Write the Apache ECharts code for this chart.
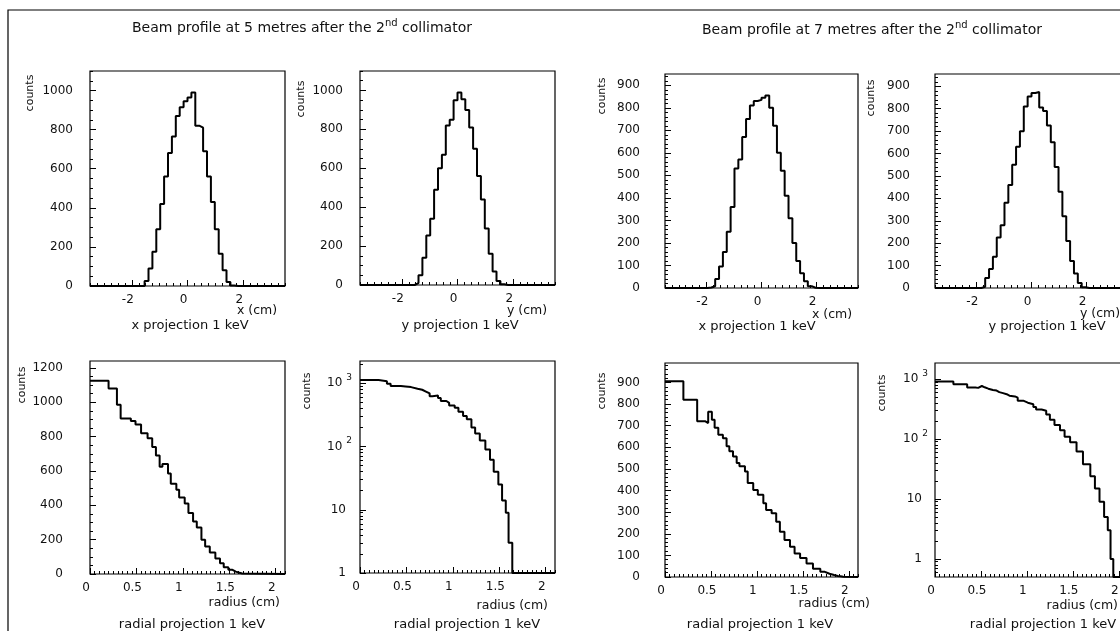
<!DOCTYPE html>
<html>
<head>
<meta charset="utf-8">
<script src="https://cdn.jsdelivr.net/npm/echarts@6/dist/echarts.min.js"></script>
<style>html,body{margin:0;padding:0;background:#fff}#c{width:1120px;height:631px}</style>
</head>
<body>
<div id="c"></div>
<script>
// ---------------- DATA ----------------
// projection histograms: 50 bins from -3.5 to 3.5 cm
const projEdgeMin = -3.5;
const projEdgeMax = 3.5;
const projBinWidth = 0.14;
const xProj5m = [0,0,0,0,0,0,0,0,0,0, 0,0,0,0,25,90,175,290,420,560, 680,765,870,915,945,965,990,820,810,690, 560,430,290,165,80,20,3,0,0,0, 0,0,0,0,0,0,0,0,0,0];
const yProj5m = [0,0,0,0,0,0,0,0,0,0, 0,0,0,0,10,50,140,255,340,490, 600,670,820,850,950,990,955,900,810,700, 560,440,290,160,70,20,4,0,0,0, 0,0,0,0,0,0,0,0,0,0];
const xProj7m = [0,0,0,0,0,0,0,0,0,0, 0,2,8,40,95,160,250,360,530,570, 670,750,810,830,835,845,855,800,720,600, 520,410,310,200,120,65,30,8,1,0, 0,0,0,0,0,0,0,0,0,0];
const yProj7m = [0,0,0,0,0,0,0,0,0,0, 0,0,5,45,85,140,225,280,380,460, 550,630,700,810,855,870,875,805,790,725, 650,540,430,320,210,120,65,22,3,0, 0,0,0,0,0,0,0,0,0,0];

// radial histograms (bin edges in cm, counts per bin)
const radialEdges5m = [0,0.2,0.29,0.33,0.44,0.49,0.55,0.62,0.67,0.71,0.75,0.78,0.84,0.87,0.93,0.96,1.02,1.06,1.11,1.15,1.20,1.24,1.29,1.35,1.40,1.44,1.49,1.53,1.57,1.60,1.64,2.1];
const radial5m = [1125,1080,985,905,890,870,820,790,740,690,625,640,585,525,490,445,410,355,305,270,200,160,125,90,62,40,25,14,9,3,0];
const radialEdges7m = [0,0.2,0.35,0.44,0.47,0.51,0.54,0.58,0.63,0.67,0.70,0.74,0.78,0.81,0.87,0.90,0.96,1.01,1.07,1.10,1.16,1.21,1.25,1.30,1.36,1.41,1.47,1.54,1.61,1.69,1.74,1.79,1.84,1.88,1.91,1.94,2.1];
const radial7m = [905,820,720,712,765,728,690,658,642,605,582,558,527,512,488,435,403,380,341,310,295,256,209,171,140,109,88,62,38,24,15,9,5,3,1,0];

// tick labels
const projXTicks = [-2, 0, 2];
const radialXTicks = [0, 0.5, 1, 1.5, 2];
const yTicks5mProj = [0, 200, 400, 600, 800, 1000];
const yTicks7mProj = [0, 100, 200, 300, 400, 500, 600, 700, 800, 900];
const yTicks5mRadial = [0, 200, 400, 600, 800, 1000, 1200];
const yTicks7mRadial = [0, 100, 200, 300, 400, 500, 600, 700, 800, 900];
const yTicksLog = [1, 10, 100, 1000];

// texts
const title5m = ['Beam profile at 5 metres after the 2', 'nd', ' collimator'];
const title7m = ['Beam profile at 7 metres after the 2', 'nd', ' collimator'];
const yName = 'counts';
const xProjName = 'x (cm)';
const yProjName = 'y (cm)';
const radiusName = 'radius (cm)';
const xProjTitle = 'x projection 1 keV';
const yProjTitle = 'y projection 1 keV';
const radialTitle = 'radial projection 1 keV';

// ---------------- BUILD ----------------
const FONT = 'DejaVu Sans';
const INK = '#111';

function range(a, b, step) {
  const out = [];
  const n = Math.round((b - a) / step);
  for (let i = 0; i <= n; i++) out.push(+(a + i * step).toFixed(6));
  return out;
}
function logMinor(lo, hi) {
  const out = [];
  [0.1, 1, 10, 100, 1000].forEach(d => { for (let m = 2; m <= 9; m++) { const v = +(m * d).toFixed(6); if (v > lo && v < hi) out.push(v); } });
  return out;
}
const projEdges = range(projEdgeMin, projEdgeMax, projBinWidth);

function histPoints(edges, values, floor) {
  const pts = [];
  for (let i = 0; i < values.length; i++) pts.push([edges[i], Math.max(values[i], floor)]);
  pts.push([edges[values.length], Math.max(values[values.length - 1], floor)]);
  return pts;
}

const projX = { min: -3.5, max: 3.5, labels: projXTicks, minor: range(-3.5, 3.5, 0.25) };
const radX = { min: 0, max: 2.1, labels: radialXTicks, minor: range(0, 2.1, 0.05) };

const panels = [
  { box: [90, 71, 195, 215], edges: projEdges, values: xProj5m, x: projX,
    y: { min: 0, max: 1100, labels: yTicks5mProj, minor: range(0, 1100, 50), margin: 17 },
    counts: [30, 93], xname: { text: xProjName, x: 237, y: 311, align: 'left' }, sub: { text: xProjTitle, x: 190, y: 326 } },
  { box: [360, 71, 195, 214], edges: projEdges, values: yProj5m, x: projX,
    y: { min: 0, max: 1100, labels: yTicks5mProj, minor: range(0, 1100, 50), margin: 17 },
    counts: [301, 99], xname: { text: yProjName, x: 507, y: 311, align: 'left' }, sub: { text: yProjTitle, x: 460, y: 326 } },
  { box: [665, 74, 193, 214], edges: projEdges, values: xProj7m, x: projX,
    y: { min: 0, max: 950, labels: yTicks7mProj, minor: range(0, 940, 20), margin: 25 },
    counts: [602, 96], xname: { text: xProjName, x: 812, y: 315, align: 'left' }, sub: { text: xProjTitle, x: 757, y: 327 } },
  { box: [935, 74, 193, 214], edges: projEdges, values: yProj7m, x: projX,
    y: { min: 0, max: 955, labels: yTicks7mProj, minor: range(0, 940, 20), margin: 25 },
    counts: [871, 98], xname: { text: yProjName, x: 1080, y: 314, align: 'left' }, sub: { text: yProjTitle, x: 1047, y: 327 } },
  { box: [90, 361, 195, 213], edges: radialEdges5m, values: radial5m, x: radX,
    y: { min: 0, max: 1240, labels: yTicks5mRadial, minor: range(0, 1200, 50), margin: 27 },
    counts: [22, 385], xname: { text: radiusName, x: 280, y: 603, align: 'right' }, sub: { text: radialTitle, x: 192, y: 625 } },
  { box: [360, 361, 195, 212], edges: radialEdges5m, values: radial5m, x: radX,
    y: { log: true, min: 1, max: 2250, labels: yTicksLog, minor: logMinor(1, 2250), margin: 8 },
    counts: [307, 391], xname: { text: radiusName, x: 548, y: 606, align: 'right' }, sub: { text: radialTitle, x: 467, y: 625 } },
  { box: [665, 363, 193, 214], edges: radialEdges7m, values: radial7m, x: radX,
    y: { min: 0, max: 990, labels: yTicks7mRadial, minor: range(0, 980, 20), margin: 25 },
    counts: [602, 391], xname: { text: radiusName, x: 870, y: 604, align: 'right' }, sub: { text: radialTitle, x: 760, y: 625 } },
  { box: [935, 363, 193, 214], edges: radialEdges7m, values: radial7m, x: radX,
    y: { log: true, min: 0.5, max: 1850, labels: yTicksLog, minor: logMinor(0.5, 1850), margin: 7 },
    counts: [882, 393], xname: { text: radiusName, x: 1118, y: 606, align: 'right' }, sub: { text: radialTitle, x: 1043, y: 625 } }
];

const logRich = {
  b: { fontSize: 12, fontFamily: FONT, color: INK, lineHeight: 20 },
  s: { fontSize: 9, fontFamily: FONT, color: INK, verticalAlign: 'top', padding: [0, 0, 0, 4] },
  p: { fontSize: 12, fontFamily: FONT, color: INK, padding: [0, 6, 0, 0] }
};
function logFormatter(v) {
  const e = Math.round(Math.log10(v));
  if (e >= 2) return '{b|10}{s|' + e + '}';
  return '{p|' + v + '}';
}

function mkAxis(dim, gi, spec, minor) {
  const a = {
    type: spec.log ? 'log' : 'value',
    gridIndex: gi, min: spec.min, max: spec.max,
    position: dim === 'x' ? 'bottom' : 'left',
    axisLine: { show: false, onZero: false },
    splitLine: { show: false },
    minorTick: { show: false }, minorSplitLine: { show: false },
    silent: true,
    axisTick: { show: true, inside: true, length: minor ? 3 : 6, lineStyle: { color: '#000', width: 1 },
      customValues: minor ? spec.minor : spec.labels }
  };
  if (spec.log) a.logBase = 10;
  if (minor) {
    a.axisLabel = { show: false };
  } else {
    a.axisLabel = { show: true, customValues: spec.labels, color: INK, fontFamily: FONT, fontSize: 12,
      margin: dim === 'x' ? 8 : spec.margin,
      formatter: spec.log ? logFormatter : (v => String(v)) };
    if (spec.log) a.axisLabel.rich = logRich;
    if (dim === 'x') a.axisLabel.padding = [0, 8, 0, 0];
  }
  return a;
}

const grids = [], xAxes = [], yAxes = [], series = [];
const graphics = [
  { type: 'rect', silent: true, shape: { x: 8, y: 10, width: 1300, height: 800 }, style: { fill: 'none', stroke: '#000', lineWidth: 1.2 } }
];
const richTitle = {
  t: { fontSize: 14, fontFamily: FONT, fill: INK, lineHeight: 20 },
  s: { fontSize: 10, fontFamily: FONT, fill: INK, verticalAlign: 'top' }
};
graphics.push({ type: 'text', silent: true, x: 302, y: 28,
  style: { text: '{t|' + title5m[0] + '}{s|' + title5m[1] + '}{t|' + title5m[2] + '}', rich: richTitle, align: 'center', verticalAlign: 'middle' } });
graphics.push({ type: 'text', silent: true, x: 872, y: 30,
  style: { text: '{t|' + title7m[0] + '}{s|' + title7m[1] + '}{t|' + title7m[2] + '}', rich: richTitle, align: 'center', verticalAlign: 'middle' } });

panels.forEach((p, i) => {
  grids.push({ left: p.box[0], top: p.box[1], width: p.box[2], height: p.box[3], show: true,
    borderColor: '#000', borderWidth: 1.2, backgroundColor: 'transparent', containLabel: false, outerBoundsMode: 'none' });
  xAxes.push(mkAxis('x', i, p.x, false));
  xAxes.push(mkAxis('x', i, p.x, true));
  yAxes.push(mkAxis('y', i, p.y, false));
  yAxes.push(mkAxis('y', i, p.y, true));
  series.push({ type: 'line', xAxisIndex: 2 * i, yAxisIndex: 2 * i, step: 'end', symbol: 'none', showSymbol: false,
    data: histPoints(p.edges, p.values, p.y.log ? p.y.min : 0),
    lineStyle: { color: '#000', width: 2 }, animation: false, silent: true, clip: true, z: 3 });
  graphics.push({ type: 'text', silent: true, x: p.counts[0], y: p.counts[1], rotation: Math.PI / 2,
    style: { text: yName, fontSize: 11, fontFamily: FONT, fill: INK, align: 'center', verticalAlign: 'middle' } });
  graphics.push({ type: 'text', silent: true, x: p.xname.x, y: p.xname.y,
    style: { text: p.xname.text, fontSize: 12.5, fontFamily: FONT, fill: INK, align: p.xname.align, verticalAlign: 'middle' } });
  graphics.push({ type: 'text', silent: true, x: p.sub.x, y: p.sub.y,
    style: { text: p.sub.text, fontSize: 13, fontFamily: FONT, fill: INK, align: 'center', verticalAlign: 'middle' } });
});

const chart = echarts.init(document.getElementById('c'), null, { renderer: 'canvas', width: 1120, height: 631 });
chart.setOption({
  backgroundColor: '#fff',
  animation: false,
  grid: grids,
  xAxis: xAxes,
  yAxis: yAxes,
  series: series,
  graphic: graphics
});
</script>
</body>
</html>
